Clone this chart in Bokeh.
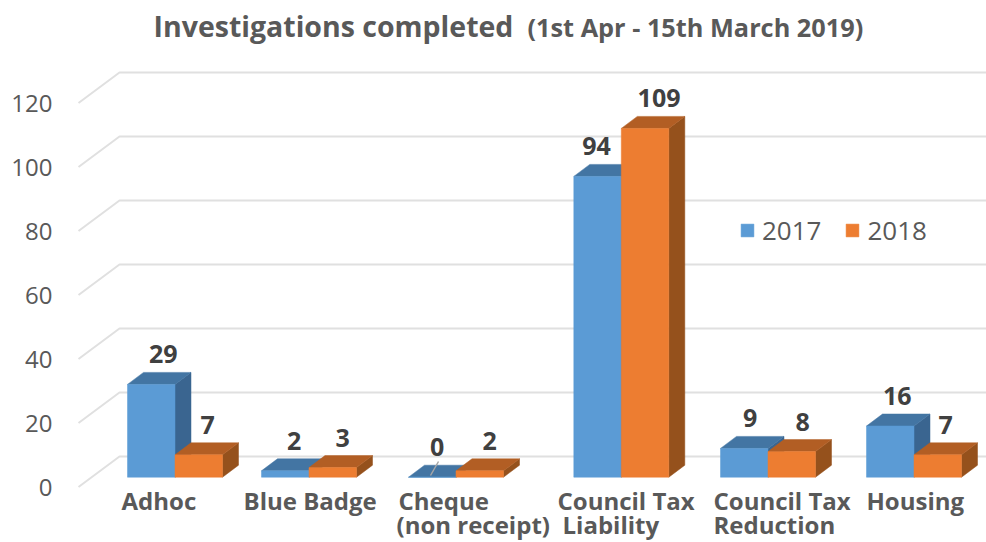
from bokeh.plotting import figure
from bokeh.embed import file_html
from bokeh.resources import INLINE
from bokeh.models import Range1d, FixedTicker, LinearAxis, Legend, LegendItem
from bokeh.core.properties import value

# ---- data ----
categories = ["Adhoc", "Blue Badge", "Cheque\n(non receipt)", "Council Tax\nLiability", "Council Tax\nReduction", "Housing"]
series_2017 = [29, 2, 0, 94, 9, 16]
series_2018 = [7, 3, 2, 109, 8, 7]
y_ticks = [0, 20, 40, 60, 80, 100, 120]
title_main = "Investigations completed"
title_sub = "(1st Apr - 15th March 2019)"

# ---- layout (x axis is in page pixels, y axis in chart values) ----
W, H = 986, 542
FRAME_LEFT = 62
PX = 3.2                  # pixels per value unit
ZERO_PX = 486.5           # page y of value 0 on the front plane
def vy(py):               # page y pixel -> value units
    return (ZERO_PX - py) / PX
BAR_LIFT = vy(476.7)
BACK_LIFT = vy(456)
WALL_X0, WALL_X1, WALL_X2 = 78, 119, 986
BAR_W = 47.5
BAR_DX = 16
BAR_DY = 12 / PX
GROUP_X = [127, 261, 408, 573.3, 720, 866]
LABEL_DX_2017 = [12, 9, 5, -1, 6, 7]
LABEL_DX_2018 = [9, 10, 10, 14, 11, 8]
LABEL_GAP = 30 / PX
CAT_X = [[121], [243], [398, 396], [557, 562], [713, 713], [866]]
CAT_PY = [499.5, 524]

C2017 = ("#5B9BD5", "#3A6590", "#4375A3")
C2018 = ("#ED7D31", "#95511C", "#B25E24")
GRID = "#E0E0E0"
TXT = "#595959"
DARK = "#404040"
FONT = "Open Sans"

p = figure(width=W, height=H, output_backend="svg", toolbar_location=None,
           x_range=Range1d(FRAME_LEFT, W), y_range=Range1d(vy(H), vy(0)),
           x_axis_type=None, y_axis_type=None,
           min_border_left=FRAME_LEFT, min_border_right=0, min_border_top=0, min_border_bottom=0,
           outline_line_color=None, background_fill_color="white", border_fill_color="white")
p.xgrid.visible = False
p.ygrid.visible = False

yaxis = LinearAxis(ticker=FixedTicker(ticks=y_ticks), axis_line_color=None,
                   major_tick_line_color=None, minor_tick_line_color=None,
                   major_label_text_font=FONT, major_label_text_font_size="24px",
                   major_label_text_color=TXT, major_label_standoff=4)
p.add_layout(yaxis, "left")

# walls
for t in y_ticks:
    p.line([WALL_X0, WALL_X1, WALL_X2], [t, t + BACK_LIFT, t + BACK_LIFT], line_color=GRID, line_width=2)

# bars
front_r = {}
def bar(x0, v, cols, key):
    x1 = x0 + BAR_W
    b = BAR_LIFT
    t = b + v
    p.patch([x1, x1 + BAR_DX, x1 + BAR_DX, x1], [b, b + BAR_DY, t + BAR_DY, t], fill_color=cols[1], line_color=cols[1], line_width=0.5)
    p.patch([x0, x1, x1 + BAR_DX, x0 + BAR_DX], [t, t, t + BAR_DY, t + BAR_DY], fill_color=cols[2], line_color=cols[2], line_width=0.5)
    r = p.patch([x0, x1, x1, x0], [b, b, t, t], fill_color=cols[0], line_color=cols[0], line_width=0.5)
    front_r.setdefault(key, r)

for gx, a, c in zip(GROUP_X, series_2017, series_2018):
    bar(gx, a, C2017, "2017")
    bar(gx + BAR_W, c, C2018, "2018")

# leader line of the zero label
p.line([438, 430], [vy(461), vy(475)], line_color="#A6A6A6", line_width=1.5)

# data labels
def lab(x, y, s, size, color=DARK, style="bold", align="center"):
    p.text([x], [y], text=[s], text_font=value(FONT), text_font_size=size, text_font_style=style,
           text_color=color, text_align=align, text_baseline="middle")

for gx, a, c, d1, d2 in zip(GROUP_X, series_2017, series_2018, LABEL_DX_2017, LABEL_DX_2018):
    lab(gx + BAR_W / 2 + d1, BAR_LIFT + a + LABEL_GAP, str(a), "25px")
    lab(gx + BAR_W * 1.5 + d2, BAR_LIFT + c + LABEL_GAP, str(c), "25px")

# category labels
for name, xs in zip(categories, CAT_X):
    for line, x, py in zip(name.split("\n"), xs, CAT_PY):
        lab(x, vy(py), line, "24px", color=TXT, align="left")

# title
lab(153, vy(25), title_main, "28.5px", color=TXT, align="left")
lab(527, vy(26), title_sub, "25.3px", color=TXT, align="left")

# legend
legend = Legend(items=[LegendItem(label="2017", renderers=[front_r["2017"]]),
                       LegendItem(label="2018", renderers=[front_r["2018"]])],
                orientation="horizontal", location=(739 - FRAME_LEFT, H - 248),
                glyph_width=16, glyph_height=16, label_standoff=7, spacing=23, padding=0, margin=0,
                border_line_color=None, background_fill_alpha=0,
                label_text_font=FONT, label_text_font_size="26px", label_text_color=TXT)
p.add_layout(legend, "center")

open("out.html", "w").write(file_html(p, INLINE))
